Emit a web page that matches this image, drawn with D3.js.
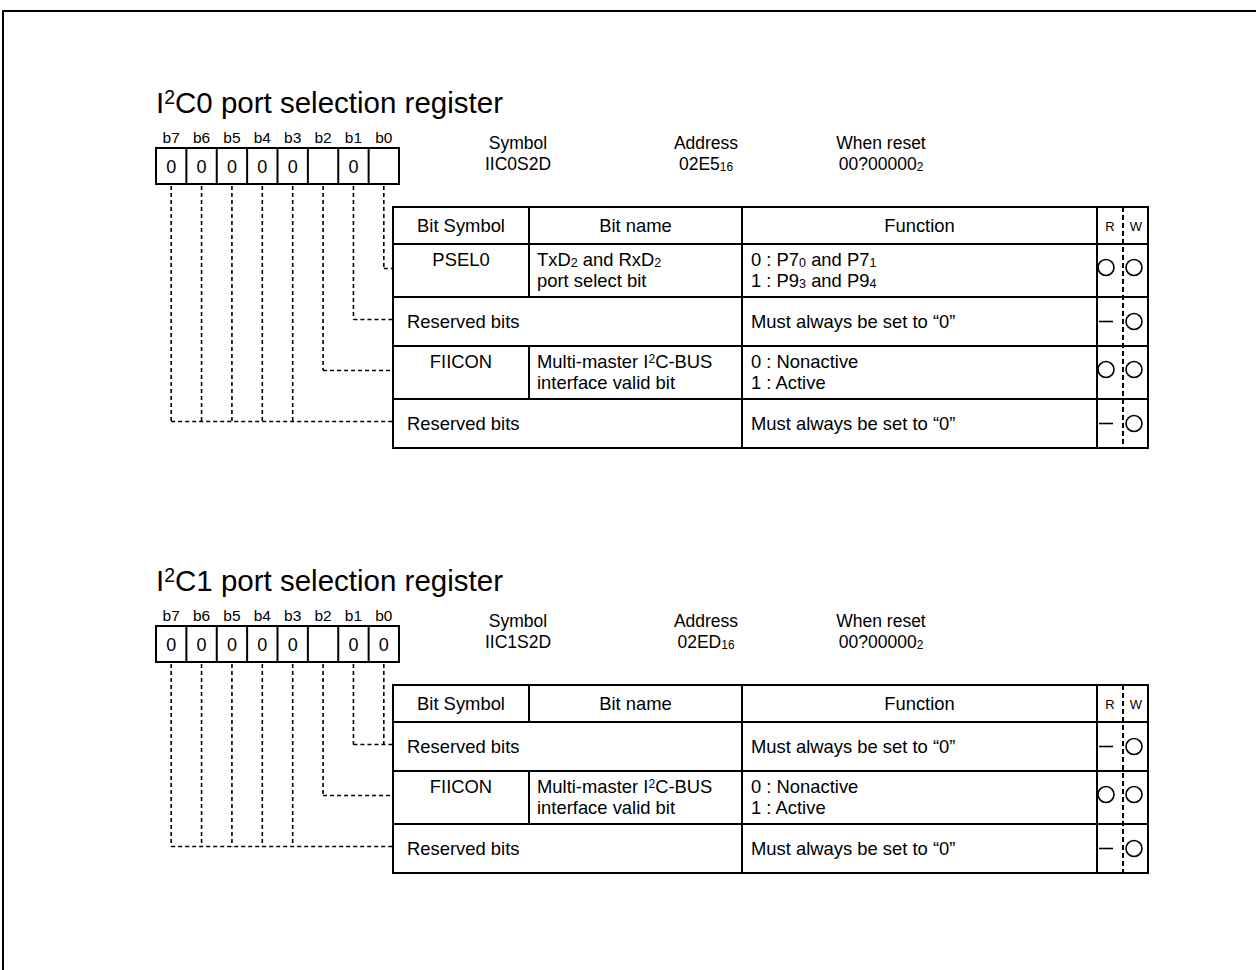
<!DOCTYPE html>
<html><head><meta charset="utf-8">
<script src="https://cdn.jsdelivr.net/npm/d3@7"></script>
<style>body{margin:0;background:#fff}svg{display:block}text{font-family:"Liberation Sans",Arial,Helvetica,sans-serif;fill:#000}</style>
</head><body><svg width="1256" height="970"></svg>
<script>
// ---------- data ----------
const bitLabels = ["b7","b6","b5","b4","b3","b2","b1","b0"];
const reg0Values = ["0","0","0","0","0","","0",""];
const reg1Values = ["0","0","0","0","0","","0","0"];
const regNumbers = ["0","1"];
const regSymbols = ["IIC0S2D","IIC1S2D"];
const regAddresses = ["02E5","02ED"];
const regResets = ["00?00000","00?00000"];
const headerLabels = ["Bit Symbol","Bit name","Function"];

const rows0 = [
  {bits:["b0"], sym:"PSEL0",
   name:[["T","x","D",["2","sub"]," and R","x","D",["2","sub"]],["port select bit"]],
   func:[["0 : P7",["0","sub"]," and P7",["1","sub"]],["1 : P9",["3","sub"]," and P9",["4","sub"]]],
   r:"o", w:"o"},
  {bits:["b1"], reserved:true, func:[["Must always be set to \u201c0\u201d"]], r:"-", w:"o"},
  {bits:["b2"], sym:"FIICON",
   name:[["Multi-master I",["2","sup"],"C-BUS"],["interface valid bit"]],
   func:[["0 : Nonactive"],["1 : Active"]], r:"o", w:"o"},
  {bits:["b3","b4","b5","b6","b7"], reserved:true, func:[["Must always be set to \u201c0\u201d"]], r:"-", w:"o"}
];
const rows1 = [
  {bits:["b0","b1"], reserved:true, func:[["Must always be set to \u201c0\u201d"]], r:"-", w:"o"},
  {bits:["b2"], sym:"FIICON",
   name:[["Multi-master I",["2","sup"],"C-BUS"],["interface valid bit"]],
   func:[["0 : Nonactive"],["1 : Active"]], r:"o", w:"o"},
  {bits:["b3","b4","b5","b6","b7"], reserved:true, func:[["Must always be set to \u201c0\u201d"]], r:"-", w:"o"}
];
const regValues = [reg0Values, reg1Values];
const regRows = [rows0, rows1];

// ---------- layout ----------
const regOffsets = [0, 478];
const FS = 18.4;
const svg = d3.select("svg");
svg.append("path").attr("d","M3,970V11H1256").attr("fill","none").attr("stroke","#000").attr("stroke-width",2);

const bx = d3.scaleBand().domain(bitLabels).range([156,399]);
const col = d3.scaleOrdinal().domain(["sym","name","func","r","w","end"]).range([393,529,742,1097,1123,1148]);

function rich(g, x, y, segs, size, anchor){
  const t = g.append("text").attr("x",x).attr("y",y).attr("font-size",size).attr("text-anchor",anchor||"start");
  let cur = 0;
  segs.forEach(s=>{
    const str = typeof s==="string"? s : s[0];
    const kind = typeof s==="string"? "n" : s[1];
    const ts = t.append("tspan").text(str);
    let want = 0;
    if(kind==="sub"){ ts.attr("font-size", size*0.68); want = 1; }
    if(kind==="sup"){ ts.attr("font-size", size*0.66); want = -size*0.30; }
    if(want!==cur) ts.attr("dy", want-cur);
    cur = want;
  });
  return t;
}

regNumbers.forEach((num, ri)=>{
  const g = svg.append("g").attr("transform",`translate(0,${regOffsets[ri]})`);
  // title
  rich(g, 156, 113, ["I",["2","sup"],"C"+num+" port selection register"], 29.5);
  // info
  const info = [[518,"Symbol",[regSymbols[ri]]],[706,"Address",[regAddresses[ri],["16","sub"]]],[881,"When reset",[regResets[ri],["2","sub"]]]];
  info.forEach(([cx,lab,val])=>{
    g.append("text").attr("x",cx).attr("y",149).attr("text-anchor","middle").attr("font-size",17.5).text(lab);
    rich(g, cx, 170, val, 17.5, "middle");
  });
  // bit labels
  g.selectAll(".bl").data(bitLabels).join("text")
    .attr("x",d=>bx(d)+bx.bandwidth()/2).attr("y",143).attr("text-anchor","middle").attr("font-size",15.5).text(d=>d);
  // box
  g.append("rect").attr("x",bx.range()[0]).attr("y",148).attr("width",bx.range()[1]-bx.range()[0]).attr("height",36)
    .attr("fill","none").attr("stroke","#000").attr("stroke-width",2);
  g.selectAll(".bd").data(bitLabels.slice(1)).join("line")
    .attr("x1",d=>bx(d)).attr("x2",d=>bx(d)).attr("y1",148).attr("y2",184).attr("stroke","#000").attr("stroke-width",2);
  g.selectAll(".bv").data(bitLabels.map((b,i)=>[b,regValues[ri][i]])).join("text")
    .attr("x",d=>bx(d[0])+bx.bandwidth()/2).attr("y",173).attr("text-anchor","middle").attr("font-size",18).text(d=>d[1]);

  // table rows layout
  const rows = regRows[ri];
  const tTop = 207, hH = 37;
  let y = tTop + hH;
  const pos = rows.map(r=>{ const h = r.reserved?49:53; const p={top:y,h}; y+=h; return p; });
  const tBot = y;
  const L = col("sym"), R = col("end");
  const line = (x1,y1,x2,y2,w)=>g.append("line").attr("x1",x1).attr("y1",y1).attr("x2",x2).attr("y2",y2).attr("stroke","#000").attr("stroke-width",w||2);
  g.append("rect").attr("x",L).attr("y",tTop).attr("width",R-L).attr("height",tBot-tTop).attr("fill","none").attr("stroke","#000").attr("stroke-width",2);
  line(L,tTop+hH,R,tTop+hH);
  pos.forEach(p=>line(L,p.top,R,p.top));
  // verticals
  line(col("name"),tTop,col("name"),tTop+hH);
  line(col("func"),tTop,col("func"),tBot);
  line(col("r"),tTop,col("r"),tBot);
  rows.forEach((r,i)=>{ if(!r.reserved) line(col("name"),pos[i].top,col("name"),pos[i].top+pos[i].h); });
  g.append("line").attr("x1",col("w")).attr("x2",col("w")).attr("y1",tTop).attr("y2",tBot)
    .attr("stroke","#000").attr("stroke-width",2).attr("stroke-dasharray","5,3");
  // headers
  const hc = tTop + hH/2 + FS*0.35;
  [["sym","name"],["name","func"],["func","r"]].forEach((c,i)=>{
    g.append("text").attr("x",(col(c[0])+col(c[1]))/2).attr("y",hc).attr("text-anchor","middle").attr("font-size",FS).text(headerLabels[i]);
  });
  g.append("text").attr("x",1110).attr("y",hc-1).attr("text-anchor","middle").attr("font-size",13).text("R");
  g.append("text").attr("x",1136).attr("y",hc-1).attr("text-anchor","middle").attr("font-size",13).text("W");

  // row contents
  rows.forEach((r,i)=>{
    const p = pos[i];
    const c = p.top + p.h/2;
    if(r.reserved){
      g.append("text").attr("x",col("sym")+14).attr("y",c+FS*0.35).attr("font-size",FS).text("Reserved bits");
      rich(g, col("func")+9, c+FS*0.35, r.func[0], FS);
    } else {
      const y1 = p.top+16+FS*0.35, y2 = p.top+37+FS*0.35;
      g.append("text").attr("x",(col("sym")+col("name"))/2).attr("y",y1).attr("text-anchor","middle").attr("font-size",FS).text(r.sym);
      rich(g, col("name")+8, y1, r.name[0], FS);
      rich(g, col("name")+8, y2, r.name[1], FS);
      rich(g, col("func")+9, y1, r.func[0], FS);
      rich(g, col("func")+9, y2, r.func[1], FS);
    }
    const sy = r.reserved ? c : c-3;
    if(r.r==="o") g.append("circle").attr("cx",1106).attr("cy",sy).attr("r",8).attr("fill","none").attr("stroke","#000").attr("stroke-width",1.6);
    else line(1099,sy,1113,sy,1.6);
    if(r.w==="o") g.append("circle").attr("cx",1134).attr("cy",sy).attr("r",8).attr("fill","none").attr("stroke","#000").attr("stroke-width",1.6);
    // connectors
    const cy = c - 2;
    const xs = r.bits.map(b=>bx(b)+bx.bandwidth()/2);
    xs.forEach(xx=>g.append("line").attr("x1",xx).attr("x2",xx).attr("y1",186).attr("y2",cy)
      .attr("stroke","#000").attr("stroke-width",1.6).attr("stroke-dasharray","4,3"));
    g.append("line").attr("x1",d3.min(xs)).attr("x2",col("sym")).attr("y1",cy).attr("y2",cy)
      .attr("stroke","#000").attr("stroke-width",1.6).attr("stroke-dasharray","4,3");
  });
});
</script></body></html>
